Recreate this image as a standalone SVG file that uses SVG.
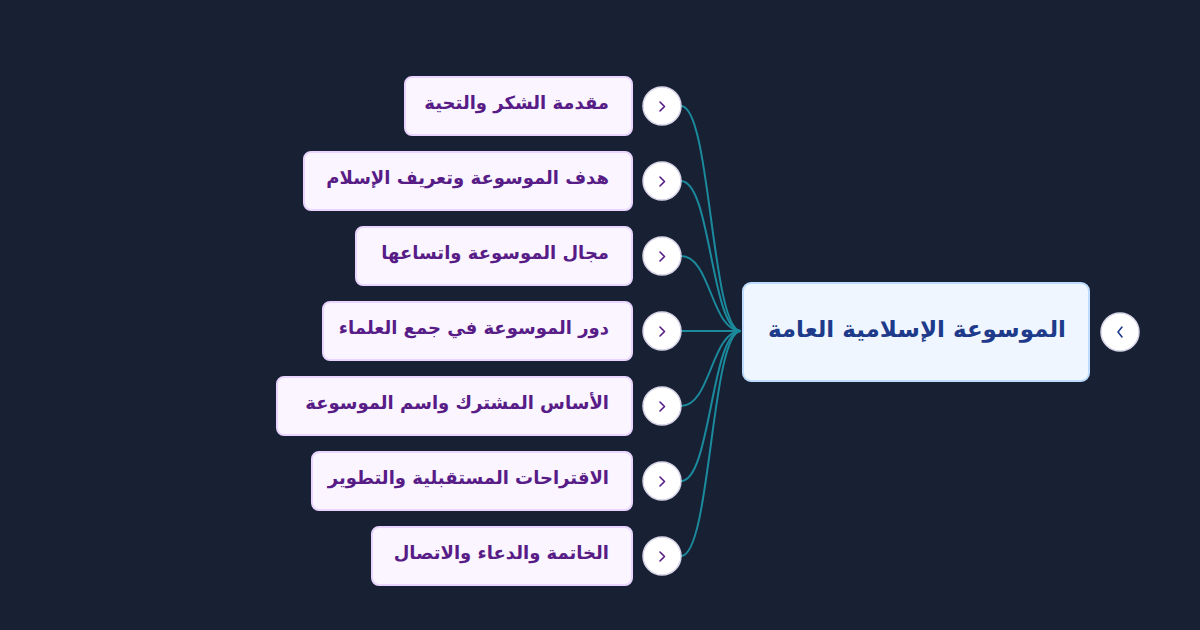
<svg xmlns="http://www.w3.org/2000/svg" width="1200" height="630" viewBox="0 0 1200 630">
<style>
.child rect{fill:#faf5ff;stroke:#e9d5ff;stroke-width:2}
.child text{font-family:"DejaVu Sans",sans-serif;font-weight:bold;font-size:18px;fill:#581c87;text-anchor:end}
.btn circle{fill:#ffffff;stroke:#d8d4e8;stroke-width:1.5}
.btn path{fill:none;stroke:#581c87;stroke-width:1.6;stroke-linecap:round;stroke-linejoin:round}
.conn path{fill:none;stroke:#1a8a9c;stroke-width:2}
</style>
<rect width="1200" height="630" fill="#182033"/>
<g class="conn" id="connectors">
<path d="M681,106 C711,106 711,331 741,331"/>
<path d="M681,181 C711,181 711,331 741,331"/>
<path d="M681,256 C711,256 711,331 741,331"/>
<path d="M681,331 C711,331 711,331 741,331"/>
<path d="M681,406 C711,406 711,331 741,331"/>
<path d="M681,481 C711,481 711,331 741,331"/>
<path d="M681,556 C711,556 711,331 741,331"/>
</g>
<g id="root">
<rect x="743" y="283" width="346" height="98" rx="8" fill="#eff6ff" stroke="#bfdbfe" stroke-width="2"/>
<text x="1066" y="337" font-family="DejaVu Sans, sans-serif" font-weight="bold" font-size="23" fill="#1e3a8a" text-anchor="end">الموسوعة الإسلامية العامة</text>
</g>
<g id="root-toggle" class="btn">
<circle cx="1120" cy="332" r="19"/>
<path d="M1122,327 L1118,332 L1122,337" style="stroke:#1e3a8a"/>
</g>
<g id="n1" class="child"><rect x="405" y="77" width="227" height="58" rx="7"/><text x="609" y="109">مقدمة الشكر والتحية</text></g>
<g id="n1-toggle" class="btn"><circle cx="662" cy="106" r="19"/><path d="M660,102 L664.5,106.5 L660,111"/></g>
<g id="n2" class="child"><rect x="304" y="152" width="328" height="58" rx="7"/><text x="609" y="184">هدف الموسوعة وتعريف الإسلام</text></g>
<g id="n2-toggle" class="btn"><circle cx="662" cy="181" r="19"/><path d="M660,177 L664.5,181.5 L660,186"/></g>
<g id="n3" class="child"><rect x="356" y="227" width="276" height="58" rx="7"/><text x="609" y="259">مجال الموسوعة واتساعها</text></g>
<g id="n3-toggle" class="btn"><circle cx="662" cy="256" r="19"/><path d="M660,252 L664.5,256.5 L660,261"/></g>
<g id="n4" class="child"><rect x="323" y="302" width="309" height="58" rx="7"/><text x="609" y="334">دور الموسوعة في جمع العلماء</text></g>
<g id="n4-toggle" class="btn"><circle cx="662" cy="331" r="19"/><path d="M660,327 L664.5,331.5 L660,336"/></g>
<g id="n5" class="child"><rect x="277" y="377" width="355" height="58" rx="7"/><text x="609" y="409">الأساس المشترك واسم الموسوعة</text></g>
<g id="n5-toggle" class="btn"><circle cx="662" cy="406" r="19"/><path d="M660,402 L664.5,406.5 L660,411"/></g>
<g id="n6" class="child"><rect x="312" y="452" width="320" height="58" rx="7"/><text x="609" y="484">الاقتراحات المستقبلية والتطوير</text></g>
<g id="n6-toggle" class="btn"><circle cx="662" cy="481" r="19"/><path d="M660,477 L664.5,481.5 L660,486"/></g>
<g id="n7" class="child"><rect x="372" y="527" width="260" height="58" rx="7"/><text x="609" y="559">الخاتمة والدعاء والاتصال</text></g>
<g id="n7-toggle" class="btn"><circle cx="662" cy="556" r="19"/><path d="M660,552 L664.5,556.5 L660,561"/></g>
</svg>
